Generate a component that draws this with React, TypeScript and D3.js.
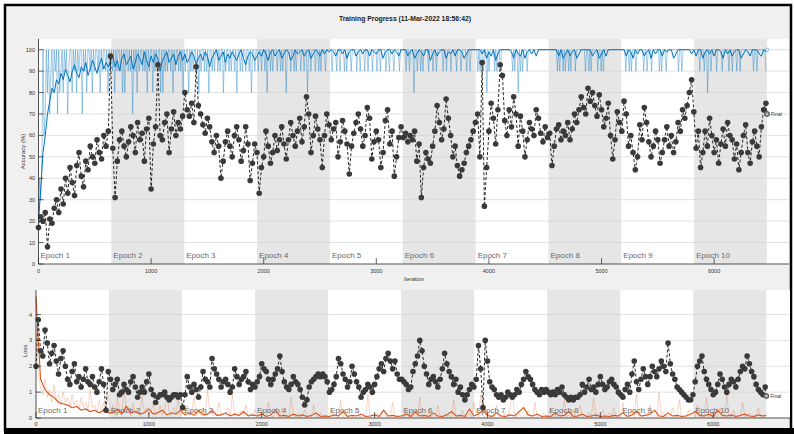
import React from "react";
import * as d3 from "d3";

// training run: 10 epochs, 647 iterations each
const ITERS_PER_EPOCH = 647;
const NUM_EPOCHS = 10;
const TOTAL_ITERS = ITERS_PER_EPOCH * NUM_EPOCHS;
const VAL_FREQ = 20;
const SMOOTH_LOSS_FREQ = 40;
const RAW_LOSS_FREQ = 20;

const epochs = d3.range(1, NUM_EPOCHS + 1);
const accTicks = [0, 10, 20, 30, 40, 50, 60, 70, 80, 90, 100];
const lossTicks = [0, 1, 2, 3, 4];
const iterTicks = [0, 1000, 2000, 3000, 4000, 5000, 6000];

// validation accuracy (%), one value every VAL_FREQ iterations, last one = final
const valAccuracy = [
  17, 22, 20, 24, 8, 21, 19, 26, 30, 24, 35, 28, 40, 33, 45, 38, 32, 46, 52, 41, 36, 48, 44, 55, 50, 47, 58, 52, 49, 60, 55, 62, 97,
  54, 31, 48, 58, 62, 55, 50, 57, 64, 60, 52, 66, 58, 61, 48, 63, 68, 35, 56, 64, 93, 60, 58, 66, 70, 52, 63, 71, 60, 66, 63, 69,
  80, 72, 69, 75, 66, 92, 74, 70, 65, 61, 68, 64, 57, 52, 60, 55, 40, 48, 57, 62, 55, 50, 60, 64, 58, 48, 53, 64, 56, 39, 47, 56, 52,
  33, 45, 50, 62, 55, 47, 52, 60, 53, 58, 64, 56, 49, 58, 66, 60, 55, 62, 68, 57, 64, 78, 70, 52, 60, 69, 63, 58, 45, 60, 70, 65,
  58, 63, 66, 50, 57, 67, 62, 56, 42, 55, 61, 66, 70, 63, 55, 60, 73, 68, 49, 57, 62, 58, 45, 52, 67, 72, 56, 62, 41, 50, 59, 64,
  59, 61, 57, 60, 58, 62, 48, 56, 31, 45, 52, 49, 47, 55, 62, 74, 66, 58, 63, 77, 68, 60, 50, 55, 46, 41, 44, 47, 52, 55, 58, 62, 66,
  70, 50, 94, 27, 45, 62, 75, 68, 56, 72, 93, 88, 67, 60, 72, 64, 78, 70, 55, 69, 62, 50, 58, 66, 63, 60, 72, 68, 61, 57, 64, 59,
  61, 46, 55, 63, 65, 58, 62, 60, 66, 58, 63, 70, 66, 72, 78, 73, 70, 82, 76, 80, 74, 69, 79, 72, 64, 68, 75, 60, 49, 58, 71, 66,
  62, 76, 70, 55, 60, 52, 44, 50, 65, 58, 73, 66, 57, 50, 55, 62, 58, 47, 52, 58, 64, 55, 60, 52, 57, 66, 62, 72, 68, 74, 80, 86, 71,
  54, 62, 45, 52, 62, 55, 68, 60, 52, 58, 47, 56, 63, 55, 66, 60, 58, 49, 56, 44, 52, 60, 65, 52, 47, 57, 62, 55, 50, 64, 72, 75, 70,
];

// validation loss, same iterations
const valLoss = [
  2.0, 3.8, 2.6, 2.4, 3.4, 2.9, 2.1, 2.5, 2.8, 2.2, 1.7, 2.3, 2.6, 2.0, 1.5, 1.3, 1.8, 2.1, 1.4, 1.6, 1.2, 1.5, 1.9, 1.4, 1.3, 1.6, 1.2, 1.0, 1.4, 1.9, 1.3, 0.3, 1.8,
  1.5, 1.1, 1.3, 1.5, 0.9, 1.0, 1.3, 1.1, 1.0, 1.4, 1.6, 1.2, 0.8, 1.0, 1.2, 1.0, 1.4, 1.7, 1.1, 0.9, 0.6, 0.8, 0.9, 0.9, 1.0, 0.8, 0.7, 0.8, 0.9, 0.9, 0.8, 0.9,
  0.4, 0.9, 1.6, 1.2, 1.0, 1.3, 1.1, 0.8, 1.2, 1.8, 1.5, 1.4, 1.2, 2.3, 1.9, 1.7, 1.5, 1.2, 1.4, 1.5, 1.3, 1.0, 1.2, 1.9, 1.6, 1.3, 1.5, 1.6, 1.8, 1.4, 1.1, 1.3, 1.2,
  1.4, 1.6, 2.1, 1.9, 1.8, 1.5, 1.3, 1.5, 1.7, 1.9, 2.4, 1.8, 1.4, 1.2, 1.1, 1.3, 1.6, 1.4, 1.3, 1.1, 0.8, 0.5, 0.7, 1.2, 1.4, 1.5, 1.6, 1.7, 1.6, 1.7, 1.6, 1.4,
  1.0, 1.1, 1.3, 1.6, 2.3, 2.1, 1.7, 1.5, 1.2, 1.4, 2.0, 1.7, 1.4, 1.2, 0.8, 1.0, 1.1, 1.3, 1.2, 1.0, 1.3, 1.6, 1.9, 2.1, 1.8, 2.3, 2.5, 2.2, 1.9, 2.2, 1.7, 1.5,
  1.5, 1.4, 1.3, 1.1, 1.2, 1.8, 2.1, 2.4, 3.0, 2.6, 2.0, 1.7, 1.3, 1.5, 1.6, 1.4, 1.2, 1.5, 1.9, 2.5, 2.1, 1.8, 1.6, 1.3, 1.5, 1.0, 1.2, 0.9, 0.7, 0.9, 1.1, 1.3, 1.2,
  1.5, 2.8, 1.9, 0.4, 3.0, 2.2, 1.4, 1.2, 1.1, 0.9, 0.8, 0.9, 0.7, 0.8, 1.0, 0.9, 0.8, 0.9, 1.1, 1.0, 1.3, 1.5, 1.8, 1.6, 1.5, 1.3, 1.1, 1.0, 0.9, 1.1, 1.0, 1.1,
  1.0, 0.9, 1.0, 0.9, 1.1, 1.0, 1.2, 0.9, 0.8, 0.7, 0.8, 0.7, 0.8, 0.8, 0.9, 1.3, 1.0, 1.2, 1.5, 1.1, 1.2, 1.0, 1.3, 1.6, 1.3, 1.1, 1.2, 1.4, 1.5, 1.3, 1.2, 1.0,
  0.9, 0.8, 1.1, 1.3, 1.0, 1.7, 2.2, 1.4, 1.1, 1.5, 1.9, 1.6, 1.3, 1.6, 2.0, 1.8, 1.6, 1.9, 2.2, 2.0, 1.8, 2.9, 2.1, 1.7, 1.5, 1.2, 1.1, 1.0, 0.9, 0.8, 0.7, 0.7, 0.9,
  1.4, 2.0, 2.2, 2.4, 1.8, 1.5, 1.3, 1.1, 0.9, 1.0, 1.3, 1.7, 1.5, 1.2, 1.0, 1.3, 1.5, 1.4, 1.2, 1.5, 1.8, 2.0, 1.9, 2.4, 2.1, 1.8, 1.6, 1.3, 1.1, 1.0, 0.9, 1.2, 0.85,
];

// smoothed training accuracy (%), same iterations as validation
const trainAccSmooth = [
  20, 35, 52, 60, 70, 76, 82, 80, 86, 84, 89, 86, 91, 88, 85, 90, 93, 89, 87, 92, 90, 94, 88, 91, 95, 92, 89, 93, 96, 91, 94, 92, 95,
  97, 92, 95, 90, 96, 98, 93, 95, 97, 91, 94, 98, 96, 93, 99, 95, 92, 97, 94, 98, 96, 90, 95, 97, 99, 94, 96, 98, 93, 97, 99, 95,
  98, 94, 96, 99, 97, 93, 96, 98, 95, 99, 97, 92, 96, 98, 100, 95, 97, 99, 94, 98, 96, 99, 97, 95, 98, 100, 96, 93, 97, 99, 98, 95, 97,
  99, 97, 100, 98, 95, 99, 100, 97, 99, 100, 96, 98, 100, 99, 95, 97, 100, 98, 99, 100, 97, 99, 100, 96, 98, 100, 99, 97, 100, 98, 100, 99,
  100, 99, 97, 100, 100, 98, 100, 96, 99, 100, 100, 97, 99, 100, 98, 100, 100, 97, 100, 99, 98, 100, 100, 96, 99, 100, 100, 98, 100, 99, 97, 100,
  100, 100, 97, 99, 100, 96, 98, 100, 99, 97, 100, 100, 95, 98, 100, 97, 99, 100, 100, 96, 99, 98, 100, 97, 100, 100, 99, 96, 98, 100, 100, 100, 100,
  100, 100, 98, 100, 96, 99, 97, 100, 95, 98, 100, 100, 100, 100, 100, 99, 96, 100, 98, 97, 100, 96, 99, 100, 98, 100, 97, 100, 100, 100, 100, 100,
  100, 100, 100, 100, 97, 100, 96, 98, 100, 97, 99, 100, 96, 98, 100, 100, 100, 100, 100, 97, 99, 100, 96, 98, 100, 97, 100, 100, 100, 100, 100, 100,
  100, 100, 97, 100, 99, 96, 100, 98, 100, 100, 97, 99, 100, 96, 100, 98, 100, 100, 97, 100, 99, 100, 100, 96, 98, 100, 100, 100, 100, 100, 100, 98, 100,
  97, 100, 100, 96, 99, 100, 98, 100, 97, 100, 100, 99, 96, 100, 98, 100, 97, 99, 100, 100, 96, 98, 100, 99, 97, 100, 100, 100, 98, 97, 100, 99, 100,
];

// smoothed training loss, every SMOOTH_LOSS_FREQ iterations
const trainLossSmooth = [
  4.7, 1.5, 1.1, 0.9, 0.8, 0.6, 0.55, 0.5, 0.4, 0.45, 0.3, 0.35, 0.25, 0.3, 0.2, 0.3, 0.2,
  0.2, 0.35, 0.15, 0.45, 0.2, 0.25, 0.15, 0.2, 0.35, 0.15, 0.2, 0.3, 0.12, 0.2, 0.15, 0.3,
  0.12, 0.2, 0.1, 0.3, 0.12, 0.15, 0.3, 0.1, 0.12, 0.2, 0.08, 0.15, 0.1, 0.25, 0.08, 0.12,
  0.08, 0.15, 0.06, 0.12, 0.3, 0.08, 0.1, 0.06, 0.15, 0.08, 0.12, 0.06, 0.1, 0.2, 0.06, 0.08,
  0.06, 0.12, 0.08, 0.25, 0.06, 0.1, 0.08, 0.15, 0.06, 0.08, 0.12, 0.06, 0.3, 0.08, 0.1, 0.06,
  0.08, 0.15, 0.06, 0.25, 0.08, 0.1, 0.06, 0.2, 0.08, 0.06, 0.12, 0.25, 0.08, 0.1, 0.06, 0.35,
  0.08, 0.15, 0.3, 0.1, 0.06, 0.2, 0.08, 0.06, 0.12, 0.08, 0.25, 0.4, 0.12, 0.08, 0.15, 0.06,
  0.08, 0.06, 0.2, 0.08, 0.1, 0.25, 0.06, 0.08, 0.15, 0.06, 0.08, 0.12, 0.06, 0.08, 0.06, 0.1,
  0.08, 0.2, 0.06, 0.12, 0.25, 0.08, 0.1, 0.15, 0.3, 0.08, 0.06, 0.2, 0.08, 0.1, 0.06, 0.08, 0.15,
  0.25, 0.1, 0.08, 0.15, 0.06, 0.3, 0.1, 0.08, 0.12, 0.06, 0.1, 0.15, 0.08, 0.06, 0.12, 0.08, 0.1,
];

// raw mini-batch accuracy per epoch, one char per ~10 iterations (digit = tens of %, T = 100)
const trainAccRaw = [
  "2435T67T8T79T8T9T7T89T8T9T79TT8T9T8T9TT7T9T8TT9T8T9TT9T8T9TT9T8T9",
  "T9T8T9TT9T8T8TT9T9T7T9T8T9TT9T9T8T9TT8T9T9TT8T8T9T9TT9T8T9TT9T9T8",
  "T9TT8T9T9TT9T8T9TT9T9T8TT9T9TT9T9TT8T9TT9T9TT9T8TT9T9TT9TT9T8TT9T",
  "T9TT9TT9T8TT9T9TTT9TT9T9TT8TTT9TT9T9TTT9TT9TT8TT9TTT9TT9T9TTT9TTT",
  "TT9TTT9TT9TTT9T9TTT9TTTT9TT9TTT9TT9TTT9TTT9TT9TTTT9TT9TTT9TTTT9TT",
  "TTT9TT9TTT8TT9TT9T9TTTT9TTT9TT9TTTTT9TT9TTT9TTTT9TTT9TTTT9TT9TTTT",
  "TT9T9TT9TT8T9TTTT9T9TT9TTTTTTTTTT9T9TT8T9T9TTT9TTTTTTTTTTTTTTTTTT",
  "TTTTTTTT9T9TT9T9TT9T9TTT9TTTTTTTT9TT9T9TTTTT9TT9T9TTTTTTTTTTTTTTT",
  "TTTT9TT9T9TTT9TTTTTT9TT9TTT9TTTTTT9T9TTT9TTTTTTTTTT9TT9TTTTTTTTTT",
  "TTTTT9TTT9TT8TT9TTTT9TTTT9TTTTT9TT9TTT9TT9TTTTTTTTTTT9TT9TTTTTTT9",
];

// raw mini-batch loss, every RAW_LOSS_FREQ iterations
const trainLossRaw = [
  3.6, 1.7, 1.2, 0.9, 1.5, 0.8, 1.1, 0.6, 1.3, 0.7, 0.9, 0.5, 1.0, 0.6, 0.8, 0.4, 0.9, 0.5, 0.7, 0.3, 0.8, 0.4, 0.6, 0.3, 1.1, 0.4, 0.5, 0.2, 0.7, 0.3, 0.6, 0.2, 0.9,
  0.2, 0.5, 0.1, 0.8, 0.3, 0.2, 1.2, 0.2, 0.4, 0.1, 0.6, 0.2, 0.3, 0.1, 0.9, 0.2, 0.4, 0.1, 0.3, 0.6, 0.1, 0.2, 0.5, 0.1, 0.3, 1.0, 0.2, 0.1, 0.4, 0.2, 0.7, 0.1,
  0.2, 0.1, 0.5, 0.1, 0.3, 0.8, 0.1, 0.2, 0.1, 0.4, 0.1, 1.1, 0.2, 0.1, 0.3, 0.1, 0.6, 0.1, 0.2, 0.1, 0.4, 0.1, 0.9, 0.1, 0.2, 0.1, 0.3, 0.1, 0.5, 0.1, 0.2, 0.1, 0.3,
  0.1, 0.05, 0.3, 0.1, 0.05, 0.6, 0.1, 0.05, 0.2, 0.1, 0.05, 0.4, 0.05, 0.1, 0.05, 0.8, 0.1, 0.05, 0.2, 0.05, 0.1, 0.3, 0.05, 0.1, 0.05, 0.5, 0.1, 0.05, 0.2, 0.05, 0.1, 0.05,
  0.05, 0.3, 0.05, 0.1, 0.05, 0.7, 0.05, 0.1, 0.05, 0.2, 0.05, 0.1, 0.4, 0.05, 0.05, 0.1, 0.05, 0.9, 0.05, 0.1, 0.05, 0.2, 0.05, 0.05, 0.3, 0.05, 0.1, 0.05, 0.6, 0.05, 0.1, 0.05,
  0.1, 0.05, 0.4, 0.05, 0.1, 0.05, 0.2, 0.05, 0.8, 0.05, 0.1, 0.05, 0.3, 0.05, 0.1, 0.05, 0.5, 0.05, 0.05, 0.2, 0.05, 0.1, 0.05, 0.7, 0.05, 0.1, 0.05, 0.3, 0.05, 0.05, 0.2, 0.05, 0.6,
  0.1, 0.05, 0.9, 0.1, 0.05, 0.3, 0.05, 0.1, 0.05, 0.5, 0.05, 0.1, 0.05, 0.2, 0.05, 0.4, 1.0, 0.1, 0.05, 0.2, 0.05, 0.1, 0.05, 0.3, 0.05, 0.05, 0.6, 0.05, 0.1, 0.05, 0.2, 0.05,
  0.05, 0.4, 0.05, 0.1, 0.05, 0.2, 0.05, 0.7, 0.05, 0.1, 0.05, 0.3, 0.05, 0.05, 0.5, 0.05, 0.1, 0.05, 0.2, 0.05, 0.8, 0.05, 0.1, 0.05, 0.3, 0.05, 0.05, 0.2, 0.05, 0.4, 0.05, 0.1,
  0.05, 0.6, 0.05, 0.1, 0.05, 0.3, 0.05, 0.9, 0.05, 0.1, 0.05, 0.2, 0.05, 0.5, 0.05, 0.1, 0.05, 1.0, 0.05, 0.2, 0.05, 0.1, 0.05, 0.4, 0.05, 0.05, 0.7, 0.05, 0.1, 0.05, 0.3, 0.05, 0.2,
  0.05, 0.5, 0.05, 0.1, 0.05, 0.8, 0.05, 0.2, 0.05, 0.1, 0.05, 0.4, 0.05, 0.1, 0.9, 0.05, 0.05, 0.3, 0.05, 0.1, 0.05, 0.6, 0.05, 0.05, 0.2, 0.05, 0.1, 0.05, 0.4, 0.05, 0.1, 0.05,
];

const FONT = "Helvetica, Arial, 'Liberation Sans', sans-serif";
const BLUE = "#0072BD";
const ORANGE = "#D95319";

const valIter = (i: number) => Math.min(i * VAL_FREQ, TOTAL_ITERS);
const smoothLossIter = (i: number) => Math.min(i * SMOOTH_LOSS_FREQ, TOTAL_ITERS);

type Scale = d3.ScaleLinear<number, number>;

function AxesFrame({ x, y, yTicks, labelY }: { x: Scale; y: Scale; yTicks: number[]; labelY: number }) {
  const [x0, x1] = x.range();
  const [yb, yt] = y.range();
  return (
    <g>
      <rect x={x0} y={yt} width={x1 - x0} height={yb - yt} fill="#fff" />
      {epochs.filter(e => e % 2 === 0).map(e => (
        <rect key={e} x={x((e - 1) * ITERS_PER_EPOCH)} y={yt}
          width={x(e * ITERS_PER_EPOCH) - x((e - 1) * ITERS_PER_EPOCH)} height={yb - yt} fill="#e6e6e6" />
      ))}
      {yTicks.slice(1).map(t => (
        <line key={t} x1={x0} x2={x1} y1={y(t)} y2={y(t)} stroke="#d4d4d4" strokeWidth={0.7} />
      ))}
      {epochs.map(e => (
        <text key={e} x={x((e - 1) * ITERS_PER_EPOCH) + 2} y={labelY} fontSize={8} fill="#6a6a6a" fontFamily={FONT}>
          Epoch {e}
        </text>
      ))}
    </g>
  );
}

function AxisLines({ x, y, yTicks, yLabelX, xLabelY }: { x: Scale; y: Scale; yTicks: number[]; yLabelX: number; xLabelY: number }) {
  const [x0, x1] = x.range();
  const [yb, yt] = y.range();
  return (
    <g fontFamily={FONT} fontSize={5.5} fill="#333">
      <line x1={x0} x2={x1} y1={yb} y2={yb} stroke="#262626" strokeWidth={0.8} />
      <line x1={x0} x2={x0} y1={yb} y2={yt} stroke="#262626" strokeWidth={0.8} />
      {iterTicks.map(t => (
        <g key={t}>
          <line x1={x(t)} x2={x(t)} y1={yb} y2={yb - 6} stroke="#262626" strokeWidth={0.7} />
          <text x={x(t)} y={xLabelY} textAnchor="middle">{t}</text>
        </g>
      ))}
      {yTicks.map(t => (
        <g key={t}>
          <line x1={x0} x2={x0 + 5} y1={y(t)} y2={y(t)} stroke="#262626" strokeWidth={0.7} />
          <text x={yLabelX} y={y(t) + 2} textAnchor="end">{t}</text>
        </g>
      ))}
    </g>
  );
}

export default function App() {
  const xTop = d3.scaleLinear().domain([0, 6665]).range([38.5, 789]);
  const yAcc = d3.scaleLinear().domain([0, 105]).range([264, 39]);
  const xBot = d3.scaleLinear().domain([0, 6680]).range([36, 790]);
  const yLoss = d3.scaleLinear().domain([0, 4.95]).range([418, 290]);

  const rawAcc = trainAccRaw.flatMap((s, e) =>
    s.split("").map((c, j) => ({ it: (e + j / s.length) * ITERS_PER_EPOCH, v: c === "T" ? 100 : +c * 10 }))
  );

  const rawAccLine = d3.line<{ it: number; v: number }>().x(d => xTop(d.it)).y(d => yAcc(d.v));
  const accLine = d3.line<number>().x((d, i) => xTop(valIter(i))).y(d => yAcc(d));
  const rawLossLine = d3.line<number>().x((d, i) => xBot(i * RAW_LOSS_FREQ)).y(d => yLoss(d));
  const smoothLossLine = d3.line<number>().x((d, i) => xBot(smoothLossIter(i))).y(d => yLoss(d));
  const lossLine = d3.line<number>().x((d, i) => xBot(valIter(i))).y(d => yLoss(d));

  const lastAcc = valAccuracy[valAccuracy.length - 1];
  const lastLoss = valLoss[valLoss.length - 1];

  return (
    <svg width={794} height={434} style={{ position: "absolute", left: 0, top: 0 }}>
      <rect x={0} y={0} width={794} height={434} fill="#fff" />
      <rect x={5} y={5} width={786} height={425} fill="#f0f0f0" stroke="#000" strokeWidth={2.5} />
      <rect x={4} y={428} width={790} height={6} fill="#000" />

      <text x={405} y={21} textAnchor="middle" fontFamily={FONT} fontSize={6.8} fontWeight="bold" fill="#1a1a1a">
        Training Progress (11-Mar-2022 18:56:42)
      </text>

      {/* accuracy panel */}
      <AxesFrame x={xTop} y={yAcc} yTicks={accTicks} labelY={257.5} />
      <path d={rawAccLine(rawAcc) ?? ""} fill="none" stroke={BLUE} strokeOpacity={0.36} strokeWidth={1} />
      <path d={accLine(trainAccSmooth) ?? ""} fill="none" stroke={BLUE} strokeWidth={1} />
      <circle cx={xTop(TOTAL_ITERS)} cy={yAcc(trainAccSmooth[trainAccSmooth.length - 1])} r={1.8} fill="#cfe3f2" stroke={BLUE} strokeOpacity={0.5} strokeWidth={0.6} />
      <path d={accLine(valAccuracy) ?? ""} fill="none" stroke="#111" strokeWidth={0.9} strokeDasharray="3,2" />
      {valAccuracy.map((v, i) => (
        <circle key={i} cx={xTop(valIter(i))} cy={yAcc(v)} r={2.8} fill="#3a3a3a" />
      ))}
      <circle cx={xTop(TOTAL_ITERS)} cy={yAcc(lastAcc)} r={2} fill="#bbb" stroke="#555" strokeWidth={0.6} />
      <text x={xTop(TOTAL_ITERS) + 4} y={yAcc(lastAcc) + 2} fontSize={5} fontFamily={FONT} fill="#333">Final</text>
      <AxisLines x={xTop} y={yAcc} yTicks={accTicks} yLabelX={35} xLabelY={273} />
      <text x={414} y={281} textAnchor="middle" fontFamily={FONT} fontSize={5.5} fill="#333">Iteration</text>
      <text transform="translate(25,151.5) rotate(-90)" textAnchor="middle" fontFamily={FONT} fontSize={6} fill="#333">
        Accuracy (%)
      </text>

      {/* loss panel */}
      <AxesFrame x={xBot} y={yLoss} yTicks={lossTicks} labelY={413} />
      <path d={rawLossLine(trainLossRaw) ?? ""} fill="none" stroke={ORANGE} strokeOpacity={0.3} strokeWidth={0.8} />
      <path d={smoothLossLine(trainLossSmooth) ?? ""} fill="none" stroke={ORANGE} strokeWidth={1.1} />
      <path d={lossLine(valLoss) ?? ""} fill="none" stroke="#111" strokeWidth={0.9} strokeDasharray="3,2" />
      {valLoss.map((v, i) => (
        <circle key={i} cx={xBot(valIter(i))} cy={yLoss(v)} r={2.8} fill="#3a3a3a" />
      ))}
      <circle cx={xBot(TOTAL_ITERS)} cy={yLoss(lastLoss)} r={2} fill="#bbb" stroke="#555" strokeWidth={0.6} />
      <text x={xBot(TOTAL_ITERS) + 4} y={yLoss(lastLoss) + 2} fontSize={5} fontFamily={FONT} fill="#333">Final</text>
      <AxisLines x={xBot} y={yLoss} yTicks={lossTicks} yLabelX={32} xLabelY={426} />
      <text transform="translate(27,351) rotate(-90)" textAnchor="middle" fontFamily={FONT} fontSize={6} fill="#333">
        Loss
      </text>
    </svg>
  );
}
